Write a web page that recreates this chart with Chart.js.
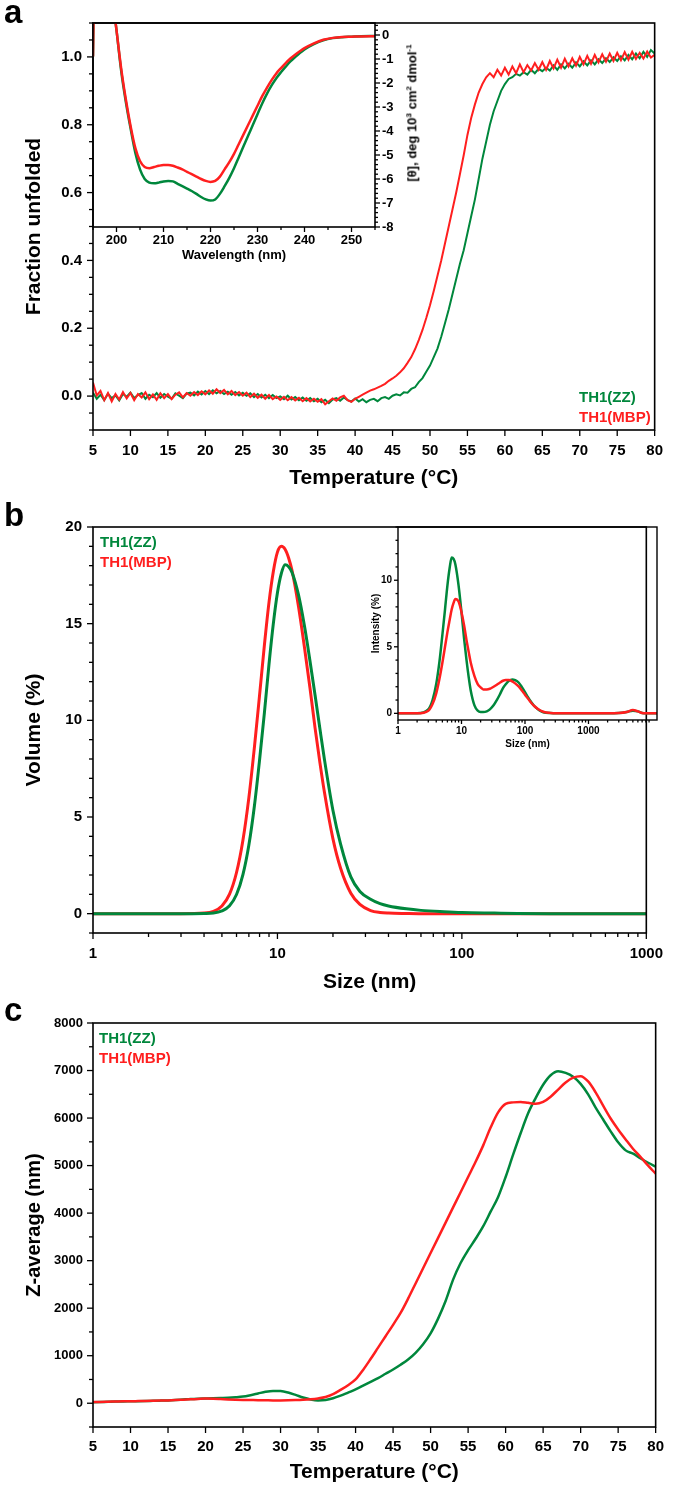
<!DOCTYPE html>
<html><head><meta charset="utf-8">
<script src="https://cdn.jsdelivr.net/npm/chart.js@4.4.0/dist/chart.umd.min.js"></script>
<style>
body{margin:0;background:#fff;}
#wrap{position:relative;width:675px;height:1489px;overflow:hidden;font-family:'Liberation Sans',Arial,sans-serif;background:#fff;}
canvas{position:absolute;}
.lbl{position:absolute;font-weight:bold;white-space:nowrap;line-height:1;}
</style></head><body>
<div id="wrap">
<canvas id="cA" width="675" height="500" style="left:0;top:0;width:675px;height:500px"></canvas>
<canvas id="cAi" width="345" height="270" style="left:90px;top:0;width:345px;height:270px"></canvas>
<canvas id="cB" width="675" height="500" style="left:0;top:500px;width:675px;height:500px"></canvas>
<canvas id="cBi" width="305" height="255" style="left:370px;top:505px;width:305px;height:255px"></canvas>
<canvas id="cC" width="675" height="489" style="left:0;top:1000px;width:675px;height:489px"></canvas>
<div class="lbl" style="left:4px;top:-5px;font-size:33px">a</div>
<div class="lbl" style="left:4px;top:498px;font-size:33px">b</div>
<div class="lbl" style="left:4px;top:993px;font-size:33px">c</div>
<div class="lbl" style="left:579px;top:389px;font-size:15px;color:#00873c">TH1(ZZ)</div>
<div class="lbl" style="left:579px;top:409px;font-size:15px;color:#ff1f1f">TH1(MBP)</div>
<div class="lbl" style="left:100px;top:534px;font-size:15px;color:#00873c">TH1(ZZ)</div>
<div class="lbl" style="left:100px;top:554px;font-size:15px;color:#ff1f1f">TH1(MBP)</div>
<div class="lbl" style="left:99px;top:1030px;font-size:15px;color:#00873c">TH1(ZZ)</div>
<div class="lbl" style="left:99px;top:1050px;font-size:15px;color:#ff1f1f">TH1(MBP)</div>
<div class="lbl" style="left:412px;top:113px;font-size:13px;transform:translate(-50%,-50%) rotate(-90deg);">[θ], deg 10<sup style="font-size:8px">3</sup> cm<sup style="font-size:8px">2</sup> dmol<sup style="font-size:8px">-1</sup></div>
</div>
<script>
// ---------- Panel a: thermal unfolding (fraction unfolded) ----------
const aTemps = [5,5.5,6,6.5,7,7.5,8,8.5,9,9.5,10,10.5,11,11.5,12,12.5,13,13.5,14,14.5,15,15.5,16,16.5,17,17.5,18,18.5,19,19.5,20,20.5,21,21.5,22,22.5,23,23.5,24,24.5,25,25.5,26,26.5,27,27.5,28,28.5,29,29.5,30,30.5,31,31.5,32,32.5,33,33.5,34,34.5,35,35.5,36,36.5,37,37.5,38,38.5,39,39.5,40,40.5,41,41.5,42,42.5,43,43.5,44,44.5,45,45.5,46,46.5,47,47.5,48,48.5,49,49.5,50,50.5,51,51.5,52,52.5,53,53.5,54,54.5,55,55.5,56,56.5,57,57.5,58,58.5,59,59.5,60,60.5,61,61.5,62,62.5,63,63.5,64,64.5,65,65.5,66,66.5,67,67.5,68,68.5,69,69.5,70,70.5,71,71.5,72,72.5,73,73.5,74,74.5,75,75.5,76,76.5,77,77.5,78,78.5,79,79.5,80];
const aFracZZ = [0.01,-0.008,0.004,-0.012,0.007,-0.006,0.002,-0.013,0.006,-0.002,
0.01,-0.006,0.003,0.009,-0.008,0.004,-0.003,0.009,-0.005,0.006,
-0.002,-0.008,0.008,0.001,-0.006,0.007,0.01,0.002,0.013,0.005,
0.015,0.006,0.017,0.008,0.015,0.006,0.013,0.004,0.012,0.002,
0.01,0.001,0.008,-0.003,0.006,-0.004,0.004,-0.006,0.003,-0.006,
-0.001,-0.009,0.001,-0.01,-0.003,-0.012,-0.004,-0.014,-0.006,-0.015,
-0.008,-0.018,-0.011,-0.021,-0.01,-0.006,-0.014,-0.004,-0.012,-0.016,
-0.007,-0.016,-0.009,-0.018,-0.011,-0.008,-0.015,-0.006,-0.003,-0.008,
0.001,0.005,0.002,0.011,0.01,0.021,0.026,0.041,0.053,0.072,
0.09,0.115,0.14,0.175,0.215,0.255,0.3,0.345,0.39,0.43,
0.48,0.53,0.58,0.64,0.7,0.75,0.8,0.84,0.87,0.9,
0.92,0.935,0.94,0.95,0.945,0.955,0.948,0.962,0.952,0.965,
0.958,0.968,0.96,0.975,0.962,0.978,0.966,0.98,0.968,0.984,
0.972,0.987,0.975,0.99,0.978,0.993,0.982,0.996,0.985,0.999,
0.988,1.002,0.99,1.006,0.993,1.01,0.996,1.015,1.0,1.02,
1.01];
const aFracMBP = [0.04,0.002,0.015,-0.012,0.009,-0.016,0.006,-0.01,0.012,-0.007,
0.009,-0.012,0.006,-0.004,0.011,-0.009,0.005,-0.011,0.008,-0.006,
0.006,-0.009,0.004,0.011,-0.004,0.009,0.001,0.012,0.003,0.014,
0.005,0.017,0.007,0.02,0.009,0.018,0.005,0.015,0.003,0.012,
0.001,0.01,-0.003,0.007,-0.005,0.004,-0.008,0.003,-0.009,-0.001,
-0.011,-0.002,-0.012,-0.003,-0.013,-0.005,-0.015,-0.006,-0.016,-0.008,
-0.017,-0.009,-0.024,-0.015,-0.007,-0.014,-0.004,0.001,-0.012,-0.017,
-0.008,-0.002,0.004,0.01,0.016,0.02,0.025,0.03,0.036,0.045,
0.052,0.06,0.07,0.082,0.098,0.115,0.138,0.165,0.195,0.23,
0.268,0.31,0.355,0.4,0.45,0.5,0.55,0.6,0.655,0.71,
0.77,0.82,0.86,0.895,0.92,0.94,0.952,0.94,0.962,0.945,
0.968,0.948,0.972,0.952,0.978,0.955,0.976,0.96,0.982,0.962,
0.985,0.962,0.988,0.966,0.992,0.968,0.995,0.972,0.996,0.974,
1.0,0.978,1.003,0.98,1.006,0.984,1.008,0.986,1.01,0.988,
1.012,0.99,1.014,0.992,1.015,0.994,1.012,0.995,1.016,0.998,
1.006];
const aTempTicks = [5,10,15,20,25,30,35,40,45,50,55,60,65,70,75,80];
const aFracTicks = [0.0,0.2,0.4,0.6,0.8,1.0];

// ---------- Panel a inset: CD spectra ----------
const cdWavelength = [195,195.3,196,197,198,199,200,201,202,203,204,205,206,207,208,209,210,211,212,213,214,215,216,217,218,219,220,221,222,223,224,225,226,227,228,229,230,231,232,233,234,235,236,237,238,239,240,242,244,246,248,250,252,255];
const cdZZ = [-0.9,3,5,5,4,1.8,0.2,-1.5,-2.8,-3.9,-4.9,-5.6,-6.0,-6.15,-6.18,-6.15,-6.1,-6.08,-6.1,-6.2,-6.3,-6.4,-6.5,-6.62,-6.75,-6.85,-6.9,-6.85,-6.62,-6.3,-5.95,-5.55,-5.1,-4.65,-4.2,-3.75,-3.3,-2.85,-2.45,-2.1,-1.8,-1.55,-1.32,-1.1,-0.92,-0.75,-0.6,-0.38,-0.22,-0.13,-0.09,-0.07,-0.05,-0.04];
const cdMBP = [-0.9,3,5,5,4,1.8,0.2,-1.4,-2.7,-3.8,-4.7,-5.25,-5.5,-5.55,-5.5,-5.45,-5.42,-5.42,-5.45,-5.52,-5.6,-5.7,-5.8,-5.9,-6.0,-6.08,-6.12,-6.08,-5.9,-5.6,-5.3,-4.95,-4.55,-4.15,-3.75,-3.35,-2.95,-2.55,-2.2,-1.88,-1.6,-1.38,-1.17,-0.98,-0.82,-0.68,-0.55,-0.35,-0.2,-0.12,-0.08,-0.07,-0.06,-0.05];
const cdWlTicks = [200,210,220,230,240,250];
const cdThetaTicks = [0,-1,-2,-3,-4,-5,-6,-7,-8];

// ---------- Panel b: DLS volume distribution ----------
const bSize = [1,2,3,4,4.5,5,5.5,6,6.5,7,7.5,8,8.5,9,9.5,10,10.5,11,11.5,12,13,14,15,16,17,18,20,22,25,28,32,36,40,50,60,80,100,150,200,300,500,1000];
const bVolZZ = [0,0,0,0.01,0.03,0.14,0.41,0.99,2.02,3.55,5.57,7.95,10.4,12.9,15.0,16.6,17.6,18.05,17.95,17.65,16.5,14.9,13.1,11.3,9.55,7.95,5.34,3.6,1.9,1.15,0.75,0.52,0.4,0.25,0.17,0.1,0.06,0.03,0.01,0,0,0];
const bVolMBP = [0,0,0,0.03,0.12,0.4,1.01,2.13,3.8,6.0,8.6,11.3,13.9,16.1,17.7,18.7,19.0,18.85,18.4,17.75,15.9,13.8,11.7,9.6,7.8,6.25,3.87,2.35,1.06,0.48,0.16,0.06,0.03,0.01,0,0,0,0,0,0,0,0];
const bSizeTicks = [1,10,100,1000];
const bVolTicks = [0,5,10,15,20];

// ---------- Panel b inset: DLS intensity distribution ----------
const biSize = [1,2,3,3.5,4,4.5,5,5.5,6,6.5,7,7.5,8,9,10,11,12,13,14,16,18,20,22,25,28,32,36,40,45,50,56,63,70,80,90,100,112,125,140,160,180,200,250,300,400,1000,2000,3000,4000,5000,6000,7000,8000,10000,12000];
const biIntZZ = [0,0,0.3,1.0,2.2,3.9,5.9,7.8,9.6,10.9,11.7,11.6,11.2,9.6,7.6,5.6,4.0,2.7,1.7,0.6,0.2,0.1,0.1,0.15,0.3,0.6,1.0,1.4,1.9,2.2,2.45,2.55,2.5,2.3,1.95,1.6,1.2,0.85,0.55,0.3,0.15,0.07,0.02,0,0,0,0,0.02,0.1,0.2,0.15,0.03,0,0,0];
const biIntMBP = [0,0,0.2,0.7,1.5,2.6,3.8,5.0,6.1,7.0,7.8,8.3,8.6,8.4,7.6,6.6,5.5,4.6,3.8,2.8,2.2,1.95,1.8,1.8,1.85,2.0,2.15,2.3,2.45,2.5,2.5,2.4,2.25,2.0,1.7,1.4,1.1,0.8,0.55,0.32,0.18,0.1,0.03,0,0,0,0,0.02,0.1,0.25,0.15,0.02,0,0,0];
const biSizeTicks = [1,10,100,1000];
const biIntTicks = [0,5,10];

// ---------- Panel c: Z-average vs temperature ----------
const cTemps = [5,6,7,8,9,10,11,12,13,14,15,16,17,18,19,20,21,22,23,24,25,26,27,28,29,30,31,32,33,34,35,36,37,38,39,40,41,42,43,44,45,46,47,48,49,50,51,52,53,54,55,56,57,58,59,60,61,62,63,64,65,66,67,68,69,70,71,72,73,74,75,76,77,78,79,80];
const cZavgZZ = [20,25,30,35,38,40,42,45,50,55,60,68,78,88,95,100,105,110,115,125,140,170,205,240,258,255,225,175,120,80,60,70,105,160,225,290,370,450,530,620,710,810,920,1060,1240,1470,1780,2150,2600,2950,3220,3460,3720,4030,4340,4760,5230,5680,6100,6420,6700,6900,6985,6950,6870,6720,6500,6220,5970,5720,5490,5320,5250,5150,5060,4980];
const cZavgMBP = [25,28,32,36,40,42,45,48,52,56,60,66,74,82,90,98,95,88,80,74,70,67,64,62,60,60,62,66,72,82,100,130,190,280,380,500,700,930,1170,1410,1650,1900,2200,2520,2840,3160,3480,3800,4120,4440,4760,5080,5420,5800,6120,6300,6330,6340,6320,6300,6340,6450,6600,6750,6850,6880,6770,6540,6260,5990,5760,5550,5350,5180,5000,4830];
const cTempTicks = [5,10,15,20,25,30,35,40,45,50,55,60,65,70,75,80];
const cZavgTicks = [0,1000,2000,3000,4000,5000,6000,7000,8000];

// ---------- styling ----------
const GREEN = '#00873c', RED = '#ff1f1f';
const FONT = "'Liberation Sans', Arial, sans-serif";
Chart.defaults.font.family = FONT;
Chart.defaults.font.weight = 'bold';
Chart.defaults.color = '#000';
Chart.defaults.animation = false;

const framePlugin = {
  id: 'frame',
  afterDatasetsDraw(chart, args, o) {
    if (!o || !o.on) return;
    const {ctx, chartArea: a} = chart;
    ctx.save();
    ctx.strokeStyle = '#000';
    ctx.lineWidth = o.lineWidth || 1.6;
    ctx.strokeRect(a.left, a.top, a.right - a.left, a.bottom - a.top);
    ctx.lineWidth = o.tickWidth || 1.3;
    for (const t of (o.ticks || [])) {
      const sc = chart.scales[t.scale];
      const draw = (vals, len) => (vals || []).forEach(v => {
        const p = sc.getPixelForValue(v);
        ctx.beginPath();
        if (t.side === 'bottom') { ctx.moveTo(p, a.bottom); ctx.lineTo(p, a.bottom + len); }
        else if (t.side === 'left') { ctx.moveTo(a.left, p); ctx.lineTo(a.left - len, p); }
        else if (t.side === 'right') { ctx.moveTo(a.right, p); ctx.lineTo(a.right + len, p); }
        ctx.stroke();
      });
      draw(t.major, t.majorLen || 6);
      draw(t.minor, t.minorLen || 3.5);
    }
    ctx.restore();
  }
};
Chart.register(framePlugin);

function setTicks(arr) { return s => { s.ticks = arr.slice().sort((p, q) => p - q).map(v => ({value: v})); }; }
function pts(xs, ys) { return xs.map((x, i) => ({x: x, y: ys[i]})); }
function minorLinear(lo, hi, step, majors) {
  const out = [];
  const n = Math.round((hi - lo) / step);
  for (let i = 0; i <= n; i++) {
    const v = +(lo + i * step).toFixed(6);
    if (!majors.some(m => Math.abs(m - v) < 1e-6)) out.push(v);
  }
  return out;
}
function minorLog(decades) {
  const out = [];
  decades.forEach(d => { for (let k = 2; k <= 9; k++) out.push(d * k); });
  return out;
}
function line(data, color, w, smooth) {
  return {data: data, borderColor: color, backgroundColor: color, borderWidth: w, pointRadius: 0,
    tension: 0, cubicInterpolationMode: smooth ? 'monotone' : 'default', fill: false};
}
function axis(extra) {
  return Object.assign({
    grid: {display: false, drawTicks: false},
    border: {display: false},
  }, extra);
}
const baseOpts = {responsive: false, animation: false, events: [],
  plugins: {legend: {display: false}, tooltip: {enabled: false}}};

// Panel a main
new Chart(document.getElementById('cA'), {
  type: 'line',
  data: {datasets: [line(pts(aTemps, aFracMBP), RED, 2), line(pts(aTemps, aFracZZ), GREEN, 2)]},
  options: Object.assign({}, baseOpts, {
    layout: {padding: {top: 23, right: 18, left: 0, bottom: 0}},
    plugins: Object.assign({}, baseOpts.plugins, {frame: {on: true, ticks: [
      {scale: 'x', side: 'bottom', major: aTempTicks, majorLen: 6},
      {scale: 'y', side: 'left', major: aFracTicks, minor: minorLinear(-0.1, 1.1, 0.05, aFracTicks), majorLen: 6, minorLen: 4}
    ]}}),
    scales: {
      x: axis({type: 'linear', min: 5, max: 80, afterBuildTicks: setTicks(aTempTicks), afterFit: s => { s.height = 70; },
        ticks: {font: {size: 15, weight: 'bold'}, padding: 12, maxRotation: 0, autoSkip: false, callback: v => String(v)},
        title: {display: true, text: 'Temperature (°C)', font: {size: 21, weight: 'bold'}, padding: {top: 0, bottom: 9}}}),
      y: axis({type: 'linear', min: -0.1, max: 1.1, afterBuildTicks: setTicks(aFracTicks), afterFit: s => { s.width = 93; },
        ticks: {font: {size: 15, weight: 'bold'}, padding: 11, autoSkip: false, callback: v => v.toFixed(1)},
        title: {display: true, text: 'Fraction unfolded', font: {size: 21, weight: 'bold'}, padding: {top: 22, bottom: 0}}})
    }
  })
});

// Panel a inset
new Chart(document.getElementById('cAi'), {
  type: 'line',
  data: {datasets: [line(pts(cdWavelength, cdMBP), RED, 2.5, true), line(pts(cdWavelength, cdZZ), GREEN, 2.5, true)]},
  options: Object.assign({}, baseOpts, {
    layout: {padding: {top: 23, right: 0, left: 3, bottom: 0}},
    plugins: Object.assign({}, baseOpts.plugins, {frame: {on: true, ticks: [
      {scale: 'x', side: 'bottom', major: cdWlTicks, minor: minorLinear(195, 255, 5, cdWlTicks), majorLen: 5, minorLen: 3},
      {scale: 'y', side: 'right', major: cdThetaTicks, minor: minorLinear(-8, 0.4, 0.2, cdThetaTicks), majorLen: 5, minorLen: 3}
    ]}}),
    scales: {
      x: axis({type: 'linear', min: 195, max: 255, afterBuildTicks: setTicks(cdWlTicks), afterFit: s => { s.height = 43; },
        ticks: {font: {size: 13, weight: 'bold'}, padding: 6, maxRotation: 0, autoSkip: false, callback: v => String(v)},
        title: {display: true, text: 'Wavelength (nm)', font: {size: 13, weight: 'bold'}, padding: {top: 0, bottom: 7}}}),
      y: axis({type: 'linear', position: 'right', min: -8, max: 0.5, afterBuildTicks: setTicks(cdThetaTicks), afterFit: s => { s.width = 60; },
        ticks: {font: {size: 13, weight: 'bold'}, padding: 7, autoSkip: false, callback: v => String(v)}})
    }
  })
});

// Panel b main
new Chart(document.getElementById('cB'), {
  type: 'line',
  data: {datasets: [line(pts(bSize, bVolZZ), GREEN, 3, true), line(pts(bSize, bVolMBP), RED, 3, true)]},
  options: Object.assign({}, baseOpts, {
    layout: {padding: {top: 27, right: 18, left: 0, bottom: 0}},
    plugins: Object.assign({}, baseOpts.plugins, {frame: {on: true, ticks: [
      {scale: 'x', side: 'bottom', major: bSizeTicks, minor: minorLog([1, 10, 100]), majorLen: 6, minorLen: 4},
      {scale: 'y', side: 'left', major: bVolTicks, minor: minorLinear(-1, 20, 1, bVolTicks), majorLen: 6, minorLen: 4}
    ]}}),
    scales: {
      x: axis({type: 'logarithmic', min: 1, max: 1000, afterBuildTicks: setTicks(bSizeTicks), afterFit: s => { s.height = 67; },
        ticks: {font: {size: 15, weight: 'bold'}, padding: 12, maxRotation: 0, autoSkip: false, callback: v => String(v)},
        title: {display: true, text: 'Size (nm)', font: {size: 21, weight: 'bold'}, padding: {top: 0, bottom: 5}}}),
      y: axis({type: 'linear', min: -1, max: 20, afterBuildTicks: setTicks(bVolTicks), afterFit: s => { s.width = 93; },
        ticks: {font: {size: 15, weight: 'bold'}, padding: 11, autoSkip: false, callback: v => String(v)},
        title: {display: true, text: 'Volume (%)', font: {size: 21, weight: 'bold'}, padding: {top: 22, bottom: 0}}})
    }
  })
});

// Panel b inset
new Chart(document.getElementById('cBi'), {
  type: 'line',
  data: {datasets: [line(pts(biSize, biIntMBP), RED, 2.5, true), line(pts(biSize, biIntZZ), GREEN, 2.5, true)]},
  options: Object.assign({}, baseOpts, {
    layout: {padding: {top: 22, right: 18, left: 0, bottom: 0}},
    plugins: Object.assign({}, baseOpts.plugins, {frame: {on: true, lineWidth: 1.4, ticks: [
      {scale: 'x', side: 'bottom', major: biSizeTicks, minor: minorLog([1, 10, 100, 1000]), majorLen: 4, minorLen: 2.5},
      {scale: 'y', side: 'left', major: biIntTicks, minor: minorLinear(0, 14, 1, biIntTicks), majorLen: 4, minorLen: 2.5}
    ]}}),
    scales: {
      x: axis({type: 'logarithmic', min: 1, max: 12000, afterBuildTicks: setTicks(biSizeTicks), afterFit: s => { s.height = 40; },
        ticks: {font: {size: 10, weight: 'bold'}, padding: 5, maxRotation: 0, autoSkip: false, callback: v => String(v)},
        title: {display: true, text: 'Size (nm)', font: {size: 10, weight: 'bold'}, padding: {top: 0, bottom: 10}}}),
      y: axis({type: 'linear', min: -0.5, max: 14, afterBuildTicks: setTicks(biIntTicks), afterFit: s => { s.width = 28; },
        ticks: {font: {size: 10, weight: 'bold'}, padding: 6, autoSkip: false, callback: v => String(v)},
        title: {display: true, text: 'Intensity (%)', font: {size: 10, weight: 'bold'}, padding: {top: 0, bottom: 0}}})
    }
  })
});

// Panel c
new Chart(document.getElementById('cC'), {
  type: 'line',
  data: {datasets: [line(pts(cTemps, cZavgMBP), RED, 2.5, true), line(pts(cTemps, cZavgZZ), GREEN, 2.5, true)]},
  options: Object.assign({}, baseOpts, {
    layout: {padding: {top: 23, right: 18, left: 0, bottom: 0}},
    plugins: Object.assign({}, baseOpts.plugins, {frame: {on: true, ticks: [
      {scale: 'x', side: 'bottom', major: cTempTicks, majorLen: 6},
      {scale: 'y', side: 'left', major: cZavgTicks, minor: minorLinear(-500, 8000, 500, cZavgTicks), majorLen: 6, minorLen: 4}
    ]}}),
    scales: {
      x: axis({type: 'linear', min: 5, max: 80, afterBuildTicks: setTicks(cTempTicks), afterFit: s => { s.height = 62; },
        ticks: {font: {size: 15, weight: 'bold'}, padding: 11, maxRotation: 0, autoSkip: false, callback: v => String(v)},
        title: {display: true, text: 'Temperature (°C)', font: {size: 21, weight: 'bold'}, padding: {top: 0, bottom: 4}}}),
      y: axis({type: 'linear', min: -500, max: 8000, afterBuildTicks: setTicks(cZavgTicks), afterFit: s => { s.width = 93; },
        ticks: {font: {size: 13, weight: 'bold'}, padding: 10, autoSkip: false, callback: v => String(v)},
        title: {display: true, text: 'Z-average (nm)', font: {size: 20, weight: 'bold'}, padding: {top: 22, bottom: 0}}})
    }
  })
});
</script>
</body></html>
